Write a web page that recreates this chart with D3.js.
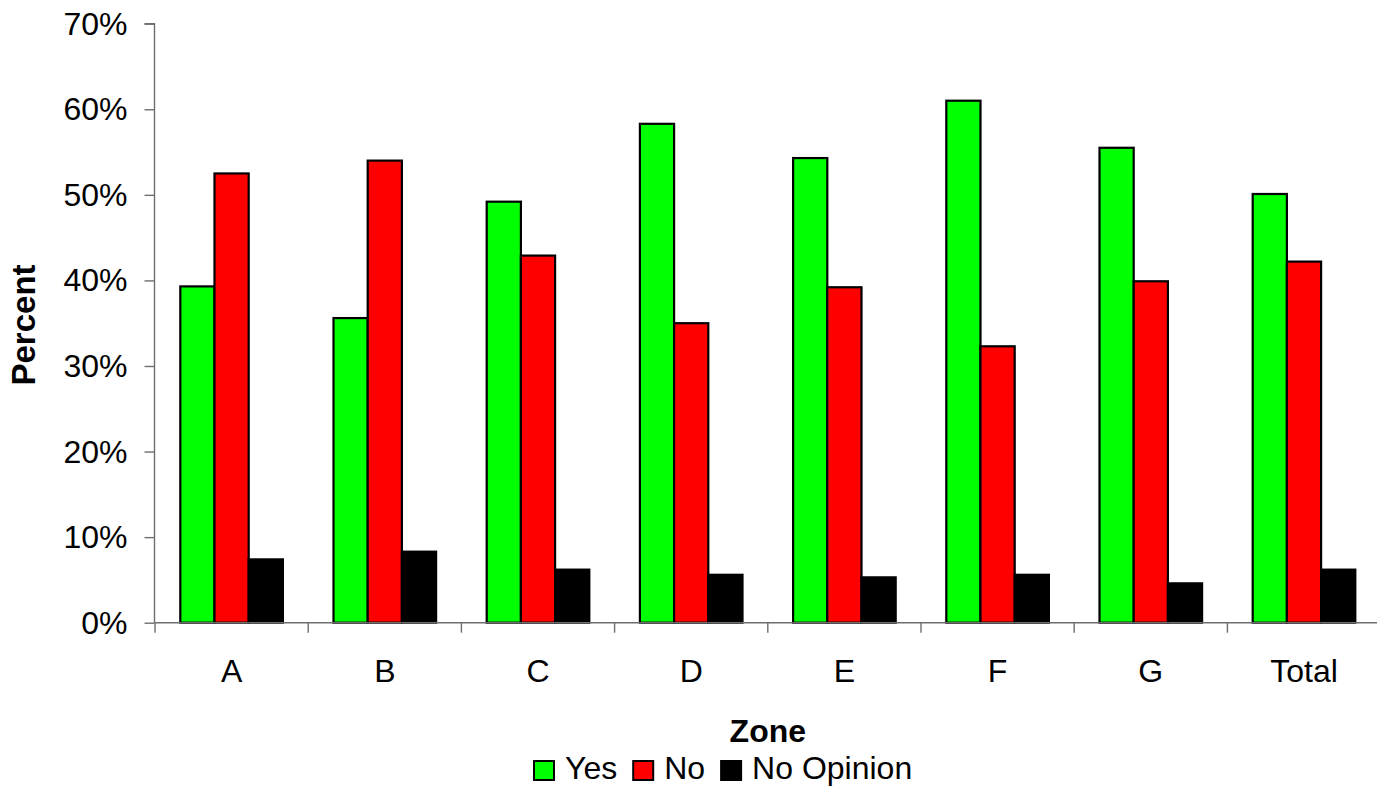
<!DOCTYPE html>
<html>
<head>
<meta charset="utf-8">
<script src="https://cdn.jsdelivr.net/npm/d3@7"></script>
<style>
  html, body { margin: 0; padding: 0; background: #fff; }
  svg { display: block; font-family: "Liberation Sans", Arial, sans-serif; }
</style>
</head>
<body>
<svg id="chart" width="1377" height="786"></svg>
<script>
// ---- data ----
const categories = ["A", "B", "C", "D", "E", "F", "G", "Total"];
const seriesNames = ["Yes", "No", "No Opinion"];
const yesValues = [0.393, 0.356, 0.492, 0.583, 0.543, 0.610, 0.555, 0.501];
const noValues = [0.525, 0.540, 0.429, 0.350, 0.392, 0.323, 0.399, 0.422];
const noOpinionValues = [0.074, 0.083, 0.062, 0.056, 0.053, 0.056, 0.046, 0.062];
const yTicks = [0, 0.1, 0.2, 0.3, 0.4, 0.5, 0.6, 0.7];
const seriesColors = ["#00ff00", "#ff0000", "#000000"];
const xTitle = "Zone";
const yTitle = "Percent";

const seriesValues = [yesValues, noValues, noOpinionValues];
const rows = categories.map((c, i) => ({
  cat: c,
  vals: seriesNames.map((s, j) => ({ key: s, value: seriesValues[j][i], color: seriesColors[j] }))
}));

// ---- layout ----
const svg = d3.select("#chart");
const plotLeft = 155, plotTop = 23.7, plotBottom = 622.7;
const bandW = 153.2;
const plotRight = plotLeft + bandW * categories.length;

const x = d3.scaleBand().domain(categories).range([plotLeft, plotRight]).paddingInner(0).paddingOuter(0);
const xs = d3.scaleBand().domain(seriesNames).range([25.3, 25.3 + 3 * 34.2]).padding(0);
const y = d3.scaleLinear().domain([0, 0.7]).range([plotBottom, plotTop]);

const fontSize = 32;

// bars
const groups = svg.append("g").selectAll("g").data(rows).join("g")
  .attr("transform", d => `translate(${x(d.cat)},0)`);
groups.selectAll("rect").data(d => d.vals).join("rect")
  .attr("x", d => xs(d.key))
  .attr("y", d => y(d.value))
  .attr("width", xs.bandwidth())
  .attr("height", d => y(0) - y(d.value))
  .attr("fill", d => d.color)
  .attr("stroke", "#000")
  .attr("stroke-width", 2.2);

// y axis
const yAxis = d3.axisLeft(y).tickValues(yTicks).tickFormat(d3.format(".0%")).tickSize(10).tickPadding(17);
const gy = svg.append("g").attr("transform", `translate(${plotLeft - 0.5},0)`).call(yAxis);
gy.select(".domain").attr("stroke", "#6e6e6e").attr("stroke-width", 1.4).attr("d", `M-10,${plotTop}H0V${plotBottom}`);
gy.selectAll(".tick line").attr("stroke", "#6e6e6e").attr("stroke-width", 1.4);
gy.selectAll(".tick text").attr("font-size", fontSize).attr("fill", "#000")
  .attr("font-family", "'Liberation Sans', Arial, sans-serif").attr("dy", "0.33em");

// x axis
const xAxis = d3.axisBottom(x).tickSize(0).tickPadding(0).tickFormat(d => d);
const gx = svg.append("g").attr("transform", `translate(0,${plotBottom})`).call(xAxis);
gx.select(".domain").attr("stroke", "#6e6e6e").attr("stroke-width", 1.4).attr("d", `M${plotLeft},0H${plotRight}`);
gx.selectAll(".tick text").attr("font-size", fontSize).attr("fill", "#000")
  .attr("font-family", "'Liberation Sans', Arial, sans-serif").attr("y", 59.5).attr("dy", 0);
// boundary tick marks between categories
const boundaries = d3.range(categories.length + 1).map(i => plotLeft + i * bandW);
gx.selectAll(".bound").data(boundaries).join("line").attr("class", "bound")
  .attr("x1", d => d).attr("x2", d => d).attr("y1", 0).attr("y2", 10)
  .attr("stroke", "#6e6e6e").attr("stroke-width", 1.4);

// axis titles
svg.append("text").attr("x", (plotLeft + plotRight) / 2).attr("y", 742)
  .attr("text-anchor", "middle").attr("font-size", 32).attr("font-weight", "bold").text(xTitle);
svg.append("text").attr("transform", `translate(34.5,325) rotate(-90)`)
  .attr("text-anchor", "middle").attr("font-size", 33).attr("font-weight", "bold").text(yTitle);

// legend
const legend = svg.append("g");
let lx = 534;
seriesNames.forEach((s, i) => {
  legend.append("rect").attr("x", lx).attr("y", 761).attr("width", 20).attr("height", 19)
    .attr("fill", seriesColors[i]).attr("stroke", "#000").attr("stroke-width", 2);
  const t = legend.append("text").attr("x", lx + 31).attr("y", 779).attr("font-size", fontSize).text(s);
  lx = lx + 31 + t.node().getComputedTextLength() + 16;
});
</script>
</body>
</html>
